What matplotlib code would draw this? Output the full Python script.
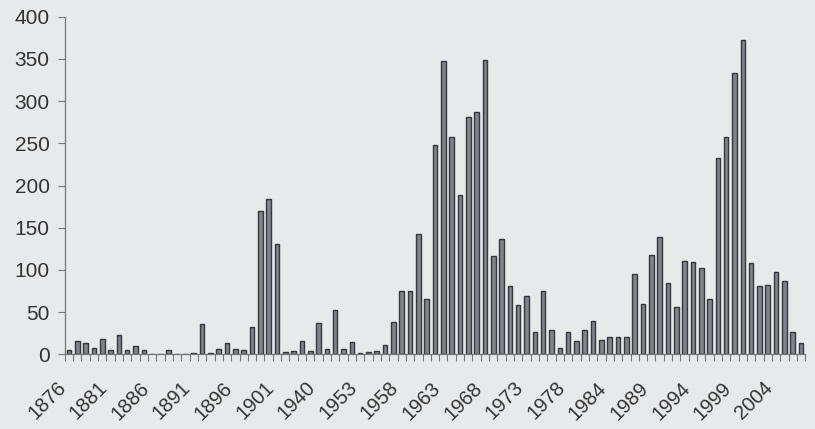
import numpy as np
import matplotlib
matplotlib.use('Agg')
import matplotlib.pyplot as plt
import matplotlib.transforms as mtransforms

# values, one per bar (89 bars)
counts = [5, 16, 14, 8, 18, 5, 23, 5, 10, 5,
          0, 1, 5, 1, 0, 2, 36, 2, 6, 13,
          6, 5, 33, 170, 184, 131, 3, 4, 16, 4,
          37, 6, 53, 6, 15, 2, 3, 4, 11, 38,
          75, 75, 143, 66, 248, 347, 258, 189, 281, 287,
          349, 116, 137, 81, 59, 69, 26, 75, 29, 7,
          26, 16, 29, 39, 17, 21, 21, 20, 95, 60,
          118, 139, 84, 56, 111, 109, 102, 65, 233, 258,
          333, 372, 108, 81, 82, 97, 87, 26, 14]

# labels shown every 5th bar
tick_labels = ['1876', '1881', '1886', '1891', '1896', '1901', '1940', '1953', '1958',
               '1963', '1968', '1973', '1978', '1984', '1989', '1994', '1999', '2004']

bg = '#e8e9ea'
plt.rcParams['font.family'] = ['Liberation Sans', 'DejaVu Sans']

fig = plt.figure(figsize=(8.15, 4.29), dpi=100, facecolor=bg)
ax = fig.add_axes([0.0795, 0.174, 0.9085, 0.787], facecolor=bg)

n = len(counts)
x = np.arange(n)
ax.bar(x, counts, width=0.55, color='#80838a', edgecolor='#35373d', linewidth=1.0)

ax.set_xlim(-0.5, n - 0.5)
ax.set_ylim(0, 400)
ax.set_yticks(np.arange(0, 401, 50))

# tick marks between categories, labels on every 5th category
ax.set_xticks(np.arange(-0.5, n, 1.0))
ax.set_xticklabels([])
ax.set_xticks(np.arange(0, n, 5), minor=True)
ax.set_xticklabels(tick_labels, minor=True, rotation=45, ha='right', va='center',
                   rotation_mode='anchor')
ax.tick_params(axis='x', which='major', length=5, color='#777777', width=0.8)
ax.tick_params(axis='x', which='minor', length=0, pad=22, labelsize=14.5, labelcolor='#333333')
ax.tick_params(axis='y', length=5, color='#777777', width=0.8, labelsize=15,
               labelcolor='#333333', pad=6)
offset = mtransforms.ScaledTranslation(-6 / 100, 0, fig.dpi_scale_trans)
for lab in ax.get_xticklabels(minor=True):
    lab.set_transform(lab.get_transform() + offset)

for s in ['top', 'right']:
    ax.spines[s].set_visible(False)
for s in ['left', 'bottom']:
    ax.spines[s].set_color('#777777')
    ax.spines[s].set_linewidth(0.9)

fig.savefig('out.png', dpi=100, facecolor=bg)
